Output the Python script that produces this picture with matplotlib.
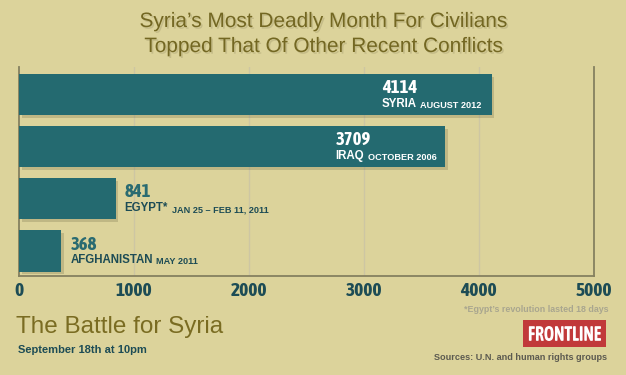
import matplotlib
matplotlib.use("Agg")
import matplotlib.pyplot as plt
import matplotlib.patheffects as pe
from matplotlib import font_manager
from matplotlib.patches import Rectangle, PathPatch
from matplotlib.textpath import TextPath
from matplotlib.font_manager import FontProperties
from matplotlib.path import Path

# ---- data ---------------------------------------------------------------
countries = ["SYRIA", "IRAQ", "EGYPT*", "AFGHANISTAN"]
periods = ["AUGUST 2012", "OCTOBER 2006", "JAN 25 \u2013 FEB 11, 2011", "MAY 2011"]
deaths = [4114, 3709, 841, 368]
xticks = [0, 1000, 2000, 3000, 4000, 5000]

title = "Syria\u2019s Most Deadly Month For Civilians\nTopped That Of Other Recent Conflicts"
footnote = "*Egypt\u2019s revolution lasted 18 days"
show_title = "The Battle for Syria"
show_date = "September 18th at 10pm"
sources = "Sources: U.N. and human rights groups"

# ---- style --------------------------------------------------------------
BG = "#dcd39b"
BAR = "#246a70"
OLIVE = "#736722"
DARK_TEAL = "#1d4c55"
GRID = "#cdc6a3"
SPINE = "#858060"

installed = {f.name for f in font_manager.fontManager.ttflist}
SANS = "Liberation Sans" if "Liberation Sans" in installed else "DejaVu Sans"


def narrow_font(bold=True):
    # look for any condensed / narrow face on the system
    cands = []
    for f in font_manager.fontManager.ttflist:
        fn = f.fname.lower()
        if "narrow" in fn or "condensed" in fn or f.stretch not in ("normal", 500):
            if "italic" in fn or "oblique" in fn or f.style != "normal":
                continue
            isbold = f.weight in ("bold", 700) or "bold" in fn
            cands.append((isbold != bold, "dejavu" in fn, f.fname))
    if cands:
        cands.sort()
        return FontProperties(fname=cands[0][2])
    return FontProperties(family="Roboto" if "Roboto" in installed else "DejaVu Sans",
                          weight="bold" if bold else "normal")


NARROW_B = narrow_font(True)

fig = plt.figure(figsize=(6.26, 3.75), dpi=100, facecolor=BG)
ax = fig.add_axes([19 / 626, 1 - 276 / 375, 574.5 / 626, 209 / 375])
ax.set_facecolor(BG)

ypos = list(range(len(deaths)))
shadow = [pe.SimplePatchShadow(offset=(2, -2), shadow_rgbFace="#6b6540", alpha=0.25), pe.Normal()]
bars = ax.barh(ypos, deaths, height=0.79, color=BAR, zorder=3)
for b in bars:
    b.set_path_effects(shadow)

ax.set_xlim(0, 5000)
ax.set_ylim(3.48, -0.527)
ax.set_xticks(xticks)
ax.set_xticklabels([str(t) for t in xticks])
for lab in ax.get_xticklabels():
    lab.set_fontproperties(NARROW_B)
    lab.set_fontsize(14)
    lab.set_color(DARK_TEAL)
ax.tick_params(axis="x", length=0, pad=4)
ax.set_yticks([])
for x in xticks[1:-1]:
    ax.axvline(x, color=GRID, lw=1, zorder=1)
for side in ["left", "right", "bottom"]:
    ax.spines[side].set_color(SPINE)
    ax.spines[side].set_linewidth(1.3)
ax.spines["top"].set_visible(False)

# bar labels
for y, val, name, per in zip(ypos, deaths, countries, periods):
    inside = val > 2000
    dx = -79 if inside else 6.5
    num_col = "white" if inside else "#2a6b71"
    name_col = "white" if inside else DARK_TEAL
    ax.annotate(str(val), (val, y), xytext=(dx, 4.6), textcoords="offset points",
                ha="left", va="center", fontproperties=NARROW_B,
                fontsize=13.5, color=num_col, zorder=4)
    t = ax.annotate(name, (val, y), xytext=(dx, -6.8), textcoords="offset points",
                    ha="left", va="center", fontfamily=SANS, fontweight="bold",
                    fontsize=8.3, color=name_col, zorder=4)
    ax.annotate(per, xy=(1, 0), xycoords=t, xytext=(2.5, 0), textcoords="offset points",
                ha="left", va="bottom", fontfamily=SANS, fontweight="bold",
                fontsize=6.6, color=name_col, zorder=4)

# title
fig.text(324 / 626, 1 - 34 / 375, title, ha="center", va="center", fontfamily=SANS,
         fontsize=15, color=OLIVE, linespacing=1.4,
         path_effects=[pe.withSimplePatchShadow(offset=(1.2, -1.2), shadow_rgbFace="#a39b6c", alpha=0.4)])

# footer
fig.text(608 / 626, 1 - 309 / 375, footnote, ha="right", va="center", fontfamily=SANS,
         fontweight="bold", fontsize=6.4, color="#a9a68f")
fig.text(16 / 626, 1 - 327 / 375, show_title, ha="left", va="center", fontfamily=SANS,
         fontsize=17.5, color="#7a6c22")
fig.text(18 / 626, 1 - 350 / 375, show_date, ha="left", va="center", fontfamily=SANS,
         fontweight="bold", fontsize=8, color=DARK_TEAL)
fig.text(607 / 626, 1 - 358 / 375, sources, ha="right", va="center", fontfamily=SANS,
         fontweight="bold", fontsize=6.6, color="#5c5a50")

# FRONTLINE logo box
x0, y0, w, h = 523 / 626, 1 - 347 / 375, 83 / 626, 27 / 375
fig.patches.append(Rectangle((x0, y0), w, h, transform=fig.transFigure,
                             facecolor="#c1393a", edgecolor="none"))
tp = TextPath((0, 0), "FRONTLINE", size=10, prop=NARROW_B)
verts = tp.vertices.copy()
vx0, vy0 = verts.min(axis=0)
vx1, vy1 = verts.max(axis=0)
tx0, tx1 = 528 / 626, 601 / 626
ty0, ty1 = 1 - 341 / 375, 1 - 326 / 375
verts[:, 0] = tx0 + (verts[:, 0] - vx0) / (vx1 - vx0) * (tx1 - tx0)
verts[:, 1] = ty0 + (verts[:, 1] - vy0) / (vy1 - vy0) * (ty1 - ty0)
fig.patches.append(PathPatch(Path(verts, tp.codes), transform=fig.transFigure,
                             facecolor="white", edgecolor="none"))

fig.savefig("out.png", dpi=100, facecolor=BG)
